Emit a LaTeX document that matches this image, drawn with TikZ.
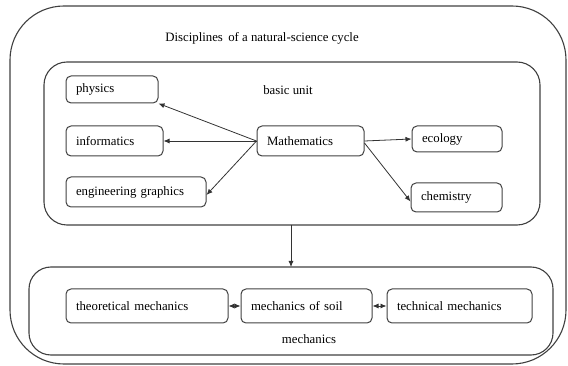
\documentclass[tikz,border=0pt]{standalone}
\usepackage{fontspec}
\setmainfont{Liberation Serif}
\usetikzlibrary{arrows.meta}
\begin{document}
\begin{tikzpicture}[x=1pt,y=-1pt,
  font=\fontsize{12.8}{14}\selectfont,
  frame/.style={draw=black!75, line width=1.1pt},
  itembox/.style={draw=black!75, line width=1pt, rounded corners=5pt, inner xsep=10pt, inner ysep=0pt, align=left, anchor=center},
  conn/.style={draw=black!80, line width=0.8pt, -{Latex[length=6pt,width=5pt]}},
  dconn/.style={draw=black!80, line width=0.8pt, {Latex[length=6pt,width=5pt]}-{Latex[length=6pt,width=5pt]}}]
\useasboundingbox (0,0) rectangle (568,366);
% outer frame
\draw[frame, rounded corners=54pt] (10,6) rectangle (566,364);
\node (title) at (262,38) {Disciplines\, of a natural-science cycle};
% basic unit
\draw[frame, rounded corners=23pt] (44,62) rectangle (540,225);
\coordinate (bunitbottom) at (291,225);
\node (bunit) at (288,90) {basic unit};
% mechanics
\draw[frame, rounded corners=22pt] (29,267) rectangle (553,355);
\coordinate (mechtop) at (291,267);
\node (mechlabel) at (309,339) {mechanics};
% nodes
\node[itembox, text width=72pt, minimum height=27pt] (phys) at (112,89.5) {physics};
\node[itembox, text width=77pt, minimum height=30pt] (info) at (114.5,141) {informatics};
\node[itembox, text width=120pt, minimum height=30pt] (eng) at (136,192) {engineering graphics};
\node[itembox, text width=87pt, minimum height=30pt] (math) at (310.5,141) {Mathematics};
\node[itembox, text width=70pt, minimum height=26pt] (eco) at (457,139) {ecology};
\node[itembox, text width=71pt, minimum height=29pt] (chem) at (456.5,197.5) {chemistry};
\node[itembox, text width=142pt, minimum height=34pt] (theo) at (147,306) {theoretical mechanics};
\node[itembox, text width=111pt, minimum height=34pt] (soil) at (306.5,306) {mechanics of soil};
\node[itembox, text width=125pt, minimum height=34pt] (tech) at (459.5,306) {technical mechanics};
% connectors
\draw[conn] (math.west) -- (phys.south east);
\draw[conn] (math.west) -- (info.east);
\draw[conn] (math.west) -- ([yshift=-3pt]eng.east);
\draw[conn] (math.east) -- (eco.west);
\draw[conn] ([yshift=-2pt]math.east) -- ([yshift=-4pt]chem.west);
\draw[conn] (bunitbottom) -- (mechtop);
\draw[dconn] (theo.east) -- (soil.west);
\draw[dconn] (soil.east) -- (tech.west);
\end{tikzpicture}
\end{document}
